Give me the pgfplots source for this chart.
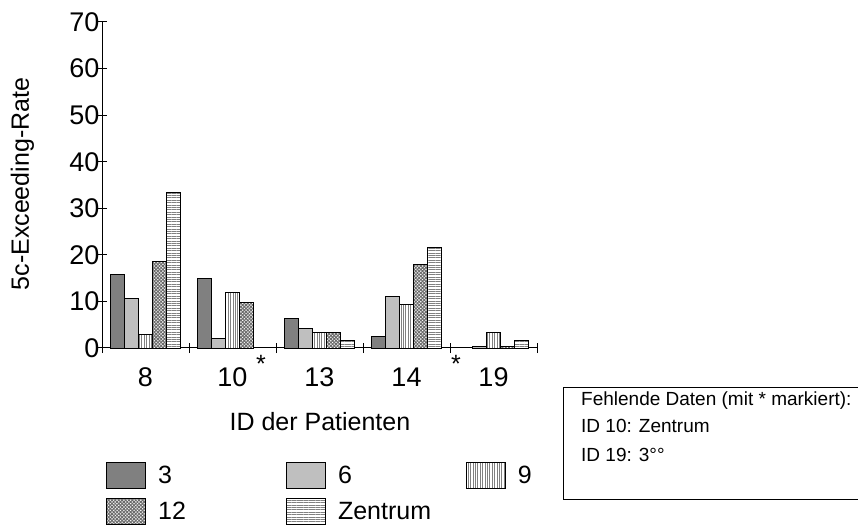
\documentclass[border=0pt]{standalone}
\usepackage{pgfplots}
\pgfplotsset{compat=1.18}
\usetikzlibrary{patterns.meta}
\usepackage{fontspec}
\setmainfont{Liberation Sans}
\begin{document}
\begin{tikzpicture}[font=\fontsize{25}{30}\selectfont]
\useasboundingbox (0,0) rectangle (858pt,524pt);
\begin{axis}[
  at={(102pt,176pt)}, anchor=south west,
  scale only axis, width=435pt, height=326pt,
  ybar=0pt, bar width=14pt,
  xmin=-0.5, xmax=4.5, ymin=0, ymax=70,
  ytick={0,10,...,70},
  xtick={-0.5,0.5,1.5,2.5,3.5,4.5},
  xticklabels={8,10,13,14,19,},
  xticklabel style={xshift=43.5pt, anchor=base, yshift=-33pt, font=\fontsize{27}{30}\selectfont},
  yticklabel style={xshift=6pt, font=\fontsize{27}{30}\selectfont},
  axis x line*=bottom, axis y line*=left,
  axis line style={line width=1pt},
  tick style={line width=1pt, black},
  tick align=center, major tick length=10pt,
  /pgf/number format/assume math mode=true,
  clip=false,
  ylabel={5c-Exceeding-Rate},
  every axis y label/.style={at={(axis description cs:-0.183,0.503)}, rotate=90, anchor=center},
  xlabel={ID der Patienten},
  every axis x label/.style={at={(axis description cs:0.501,-0.225)}, anchor=center},
  legend columns=3,
  legend style={draw=none, fill=none, at={(axis description cs:0.0092,-0.3497)}, anchor=north west,
    inner sep=0pt, row sep=9pt,
    /tikz/every odd column/.append style={column sep=10pt},
    /tikz/every even column/.append style={column sep=12pt},
    font=\fontsize{25}{30}\selectfont},
  legend cell align=left,
  every axis plot/.append style={draw=black, line width=0.9pt,
    legend image code/.code={\draw[##1] (0pt,-13pt) rectangle (39pt,13pt);}},
]
\addplot[fill=gray] coordinates {(0,15.8) (1,15.0) (2,6.4) (3,2.5)};
\addlegendentry{\makebox[114pt][l]{3}}
\addplot[fill=gray!50] coordinates {(0,10.7) (1,2.1) (2,4.2) (3,11.1) (4,0.4)};
\addlegendentry{\makebox[114pt][l]{6}}
\addplot[fill=white, postaction={pattern={Lines[angle=90,distance=2.4pt,line width=0.5pt]}, pattern color=gray}] coordinates {(0,2.9) (1,12.0) (2,3.4) (3,9.4) (4,3.4)};
\addlegendentry{\makebox[114pt][l]{9}}
\addplot[fill=white, postaction={pattern={Hatch[angle=45,distance=2.4pt,line width=1pt]}, pattern color=gray!85!black}] coordinates {(0,18.5) (1,9.8) (2,3.4) (3,18.0) (4,0.4)};
\addlegendentry{\makebox[114pt][l]{12}}
\addplot[fill=white, postaction={pattern={Lines[angle=0,distance=2.4pt,line width=0.5pt]}, pattern color=gray}] coordinates {(0,33.4) (2,1.7) (3,21.5) (4,1.7)};
\addlegendentry{\makebox[114pt][l]{Zentrum}}
\node at (axis cs:1.328,-3.5) {*};
\node at (axis cs:3.569,-3.5) {*};
\end{axis}
\draw[line width=0.9pt] (563pt,25pt) rectangle (862pt,137pt);
\begin{scope}[font=\fontsize{19}{22}\selectfont]
\node[anchor=base west, inner sep=0pt] at (581pt,118.5pt) {Fehlende Daten (mit * markiert):};
\node[anchor=base west, inner sep=0pt] at (581pt,91.5pt) {ID 10: Zentrum};
\node[anchor=base west, inner sep=0pt] at (581pt,62.5pt) {ID 19: 3°°};
\end{scope}
\end{tikzpicture}
\end{document}
